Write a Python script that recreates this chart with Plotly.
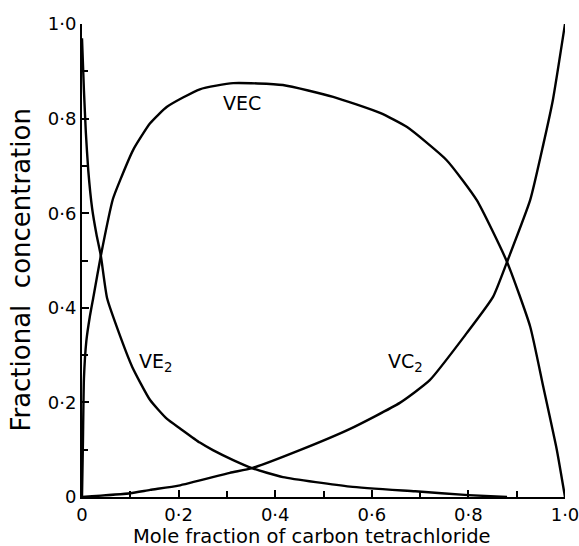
import plotly.graph_objects as go

# Data
ve2_x = [0, 0.004, 0.008, 0.013, 0.021, 0.03, 0.039, 0.052, 0.079, 0.104, 0.141, 0.176, 0.203, 0.244, 0.271, 0.313, 0.352, 0.416, 0.555, 0.69, 0.8, 0.88]
ve2_y = [0.97, 0.86, 0.77, 0.69, 0.61, 0.555, 0.51, 0.42, 0.34, 0.275, 0.205, 0.165, 0.145, 0.115, 0.099, 0.078, 0.061, 0.042, 0.022, 0.012, 0.004, 0.0]

vec_x = [0, 0.002, 0.004, 0.009, 0.016, 0.024, 0.039, 0.064, 0.079, 0.106, 0.141, 0.176, 0.244, 0.313, 0.416, 0.52, 0.617, 0.673, 0.755, 0.817, 0.88, 0.928, 0.955, 0.983, 1.0]
vec_y = [0, 0.12, 0.25, 0.33, 0.38, 0.425, 0.51, 0.63, 0.67, 0.734, 0.79, 0.825, 0.862, 0.875, 0.871, 0.846, 0.812, 0.782, 0.712, 0.628, 0.497, 0.36, 0.233, 0.10, 0.0]

vc2_x = [0, 0.1, 0.141, 0.2, 0.306, 0.352, 0.451, 0.555, 0.658, 0.72, 0.797, 0.851, 0.88, 0.928, 0.955, 0.975, 1.0]
vc2_y = [0, 0.008, 0.015, 0.024, 0.051, 0.061, 0.099, 0.144, 0.199, 0.247, 0.347, 0.423, 0.497, 0.628, 0.745, 0.84, 1.0]

tick_vals = [0, 0.2, 0.4, 0.6, 0.8, 1.0]
tick_text = ["0", "0·2", "0·4", "0·6", "0·8", "1·0"]

x_title = "Mole fraction of carbon tetrachloride"
y_title = "Fractional  concentration"

FONT = "DejaVu Sans"
fig = go.Figure()
for xs, ys in [(ve2_x, ve2_y), (vec_x, vec_y), (vc2_x, vc2_y)]:
    fig.add_trace(go.Scatter(x=xs, y=ys, mode="lines",
                             line=dict(color="black", width=2.4, shape="spline", smoothing=0.5),
                             showlegend=False, cliponaxis=False, hoverinfo="skip"))

labels = [(0.331, 0.833, "VEC"), (0.153, 0.285, "VE<sub>2</sub>"), (0.67, 0.285, "VC<sub>2</sub>")]
for lx, ly, lt in labels:
    fig.add_annotation(x=lx, y=ly, text=lt, showarrow=False,
                       font=dict(family=FONT, size=19, color="black"))

# axis titles placed as paper annotations to match the reference positions
fig.add_annotation(xref="paper", yref="paper", x=0.476, y=-0.083, text=x_title,
                   showarrow=False, xanchor="center", yanchor="middle", height=17,
                   font=dict(family=FONT, size=19.5, color="black"))
fig.add_annotation(xref="paper", yref="paper", x=-0.127, y=0.48, text=y_title,
                   showarrow=False, xanchor="center", yanchor="middle", textangle=-90,
                   font=dict(family=FONT, size=26, color="black"))

axis_common = dict(range=[0, 1], tickvals=tick_vals, ticktext=tick_text, automargin=False,
                   showgrid=False, zeroline=False, showline=True, linecolor="black",
                   linewidth=2, ticks="inside", ticklen=7, tickwidth=2, tickcolor="black",
                   ticklabeloverflow="allow",
                   tickfont=dict(family=FONT, size=18, color="black"),
                   minor=dict(dtick=0.1, ticks="inside", ticklen=6, tickwidth=2, tickcolor="black"))

fig.update_xaxes(**axis_common)
fig.update_yaxes(**axis_common)

fig.update_layout(width=579, height=546, margin=dict(l=82, r=14, t=24, b=49),
                  plot_bgcolor="white", paper_bgcolor="white")
fig.write_html("out.html", config={"displayModeBar": False},
               post_script="document.body.style.margin='0';")
